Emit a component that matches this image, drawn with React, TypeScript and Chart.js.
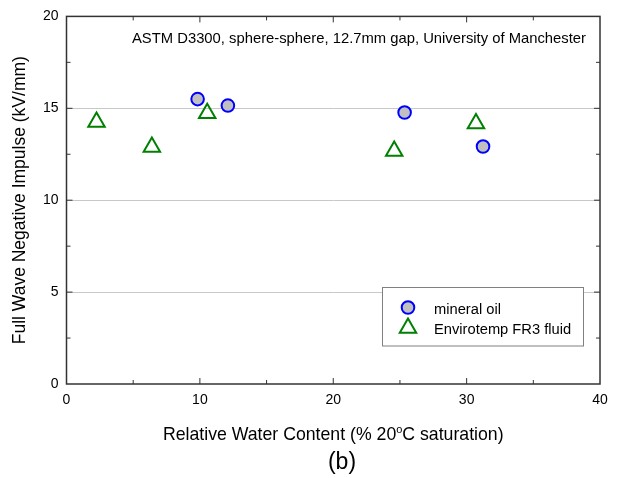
import React, { useEffect, useRef } from "react";
import { Chart, registerables } from "chart.js";

Chart.register(...registerables);

// Breakdown strength vs relative water content
const mineralOilX = [9.83, 12.1, 25.35, 31.23];
const mineralOilY = [15.5, 15.15, 14.77, 12.92];
const fr3X = [2.25, 6.4, 10.55, 24.57, 30.7];
const fr3Y = [14.25, 12.9, 14.73, 12.68, 14.17];

const xTicks = [0, 10, 20, 30, 40];
const yTicks = [0, 5, 10, 15, 20];
const yGridValues = [5, 10, 15];
const xMinorTicks = [5, 15, 25, 35];
const yMinorTicks = [2.5, 7.5, 12.5, 17.5];

const seriesNames = ["mineral oil", "Envirotemp FR3 fluid"];
const noteText = "ASTM D3300, sphere-sphere, 12.7mm gap, University of Manchester";
const yTitle = "Full Wave Negative Impulse (kV/mm)";
const xTitleParts = ["Relative Water Content (% 20", "o", "C saturation)"];
const panelLabel = "(b)";

const FONT = '"Liberation Sans", Arial, sans-serif';
const BLUE = "#0000ff";
const GREEN = "#008000";
const FILL = "#c0c0c0";
const CIRCLE_R = 6.3;
const TRI_R = 9.5;

function drawCircle(ctx: CanvasRenderingContext2D, x: number, y: number, r: number) {
  ctx.beginPath();
  ctx.arc(x, y, r, 0, Math.PI * 2);
  ctx.fillStyle = FILL;
  ctx.fill();
  ctx.lineWidth = 2;
  ctx.strokeStyle = BLUE;
  ctx.stroke();
}

function drawTriangle(ctx: CanvasRenderingContext2D, x: number, y: number, r: number) {
  ctx.beginPath();
  for (let i = 0; i < 3; i++) {
    const a = (i * 2 * Math.PI) / 3;
    const px = x + Math.sin(a) * r;
    const py = y - Math.cos(a) * r;
    if (i === 0) ctx.moveTo(px, py);
    else ctx.lineTo(px, py);
  }
  ctx.closePath();
  ctx.lineWidth = 2;
  ctx.strokeStyle = GREEN;
  ctx.stroke();
}

const decorations = {
  id: "decorations",
  afterDatasetsDraw(chart: any) {
    const { ctx, chartArea: a, scales } = chart;
    const xs = scales.x;
    const ys = scales.y;
    ctx.save();

    // frame
    ctx.strokeStyle = "#333333";
    ctx.lineWidth = 1.5;
    ctx.strokeRect(a.left, a.top, a.right - a.left, a.bottom - a.top);

    // inward tick marks on all four sides
    ctx.lineWidth = 1;
    const tick = (vals: number[], len: number) => {
      vals.forEach((v) => {
        const px = xs.getPixelForValue(v);
        ctx.beginPath();
        ctx.moveTo(px, a.bottom);
        ctx.lineTo(px, a.bottom - len);
        ctx.moveTo(px, a.top);
        ctx.lineTo(px, a.top + len);
        ctx.stroke();
      });
    };
    const tickY = (vals: number[], len: number) => {
      vals.forEach((v) => {
        const py = ys.getPixelForValue(v);
        ctx.beginPath();
        ctx.moveTo(a.left, py);
        ctx.lineTo(a.left + len, py);
        ctx.moveTo(a.right, py);
        ctx.lineTo(a.right - len, py);
        ctx.stroke();
      });
    };
    tick(xTicks.slice(1, -1), 6);
    tick(xMinorTicks, 4);
    tickY(yTicks.slice(1, -1), 6);
    tickY(yMinorTicks, 4);

    // note at top of plot
    ctx.fillStyle = "#000";
    ctx.font = `14.8px ${FONT}`;
    ctx.textAlign = "left";
    ctx.textBaseline = "alphabetic";
    ctx.fillText(noteText, 132, 43);

    // legend box
    const lx = 382.5, ly = 287.5, lw = 201, lh = 58.5;
    ctx.fillStyle = "#ffffff";
    ctx.fillRect(lx, ly, lw, lh);
    ctx.strokeStyle = "#808080";
    ctx.lineWidth = 1;
    ctx.strokeRect(lx, ly, lw, lh);
    drawCircle(ctx, 408, 307.5, CIRCLE_R);
    drawTriangle(ctx, 408, 328, TRI_R);
    ctx.fillStyle = "#000";
    ctx.font = `14.7px ${FONT}`;
    ctx.fillText(seriesNames[0], 434, 314);
    ctx.fillText(seriesNames[1], 434, 334);

    // x axis title with superscript degree
    const big = `17.7px ${FONT}`;
    const small = `11px ${FONT}`;
    ctx.font = big;
    const w0 = ctx.measureText(xTitleParts[0]).width;
    const w2 = ctx.measureText(xTitleParts[2]).width;
    ctx.font = small;
    const w1 = ctx.measureText(xTitleParts[1]).width;
    const cx = (a.left + a.right) / 2;
    let tx = cx - (w0 + w1 + w2) / 2;
    const ty = 440;
    ctx.font = big;
    ctx.fillText(xTitleParts[0], tx, ty);
    tx += w0;
    ctx.font = small;
    ctx.fillText(xTitleParts[1], tx, ty - 7);
    tx += w1;
    ctx.font = big;
    ctx.fillText(xTitleParts[2], tx, ty);

    // panel label
    ctx.font = `23px ${FONT}`;
    ctx.textAlign = "center";
    ctx.fillText(panelLabel, 342, 469);

    // y axis title
    ctx.font = `17.5px ${FONT}`;
    ctx.translate(25, (a.top + a.bottom) / 2);
    ctx.rotate(-Math.PI / 2);
    ctx.textAlign = "center";
    ctx.fillText(yTitle, 0, 0);

    ctx.restore();
  },
};

export default function App() {
  const ref = useRef<HTMLCanvasElement | null>(null);

  useEffect(() => {
    if (!ref.current) return;
    const chart = new Chart(ref.current, {
      type: "scatter",
      data: {
        datasets: [
          {
            label: seriesNames[0],
            data: mineralOilX.map((x, i) => ({ x, y: mineralOilY[i] })),
            pointStyle: "circle",
            pointRadius: CIRCLE_R,
            pointBorderWidth: 2,
            pointBorderColor: BLUE,
            pointBackgroundColor: FILL,
          },
          {
            label: seriesNames[1],
            data: fr3X.map((x, i) => ({ x, y: fr3Y[i] })),
            pointStyle: "triangle",
            pointRadius: TRI_R,
            pointBorderWidth: 2,
            pointBorderColor: GREEN,
            pointBackgroundColor: "rgba(0,0,0,0)",
          },
        ],
      },
      options: {
        animation: false,
        responsive: false,
        devicePixelRatio: 1,
        layout: { padding: { left: 0, top: 14, right: 18, bottom: 0 } },
        plugins: { legend: { display: false }, tooltip: { enabled: false } },
        scales: {
          x: {
            type: "linear",
            min: 0,
            max: 40,
            afterBuildTicks: (s: any) => {
              s.ticks = xTicks.map((v) => ({ value: v }));
            },
            afterFit: (s: any) => {
              s.height = 94;
            },
            grid: { display: false, drawTicks: false },
            border: { display: false },
            ticks: {
              padding: 8,
              color: "#000",
              font: { family: FONT, size: 14 },
              maxRotation: 0,
            },
          },
          y: {
            type: "linear",
            min: 0,
            max: 20,
            afterBuildTicks: (s: any) => {
              s.ticks = yTicks.map((v) => ({ value: v }));
            },
            afterFit: (s: any) => {
              s.width = 66.5;
            },
            grid: {
              drawTicks: false,
              lineWidth: 1,
              color: (c: any) =>
                c.tick && yGridValues.includes(c.tick.value) ? "#c8c8c8" : "rgba(0,0,0,0)",
            },
            border: { display: false },
            ticks: {
              padding: 8,
              color: "#000",
              font: { family: FONT, size: 14 },
            },
          },
        },
      },
      plugins: [decorations],
    } as any);
    return () => chart.destroy();
  }, []);

  return (
    <div style={{ position: "fixed", left: 0, top: 0, width: 618, height: 478, background: "#fff" }}>
      <canvas ref={ref} width={618} height={478} />
    </div>
  );
}
